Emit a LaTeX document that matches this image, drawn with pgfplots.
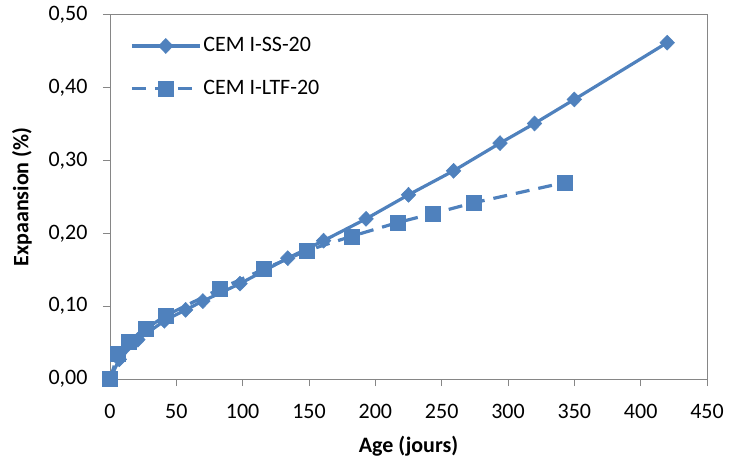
\documentclass[border=0pt]{standalone}
\usepackage{pgfplots}
\pgfplotsset{compat=1.18}
\usepackage{fontspec}
\setmainfont{Carlito}
\definecolor{xlblue}{HTML}{4F81BD}
\definecolor{axgray}{HTML}{868686}
\begin{document}
\fontsize{22bp}{26bp}\selectfont
\begin{tikzpicture}
\useasboundingbox (-110bp,-87bp) rectangle (619bp,379bp);
\begin{axis}[
  at={(0,0)}, anchor=south west,
  scale only axis, width=597bp, height=364bp,
  xmin=0, xmax=450, ymin=0, ymax=0.5,
  xtick={0,50,...,450}, ytick={0,0.1,0.2,0.3,0.4,0.5},
  tick align=outside, xtick pos=bottom, ytick pos=left,
  major tick length=7bp,
  every tick/.style={axgray, line width=1pt},
  axis line style={axgray, line width=1pt},
  tick label style={font=\fontsize{22bp}{26bp}\selectfont, black},
  /pgf/number format/assume math mode=true,
  yticklabel style={/pgf/number format/.cd, fixed, fixed zerofill, precision=2, use comma, /tikz/.cd, xshift=-8bp},
  xticklabel style={/pgf/number format/.cd, fixed, /tikz/.cd, yshift=-11bp},
  scaled y ticks=false,
  xlabel={\bfseries Age (jours)},
  ylabel={\bfseries Expaansion (\%)},
  label style={font=\fontsize{22bp}{26bp}\selectfont\bfseries},
  xlabel style={at={(axis description cs:0.5,0)}, anchor=center, yshift=-67bp},
  ylabel style={at={(axis description cs:0,0.5)}, anchor=center, yshift=88bp},
  legend style={at={(17bp,346bp)}, anchor=north west, draw=none, fill=none,
    font=\fontsize{22bp}{26bp}\selectfont, row sep=21bp,
    /tikz/every even column/.append style={column sep=0pt}},
  legend cell align=left,
  legend image code/.code={%
    \draw[mark repeat=2,mark phase=2,#1] plot coordinates {(0bp,0bp) (34bp,0bp) (68bp,0bp)};},
]
\addplot[color=xlblue, line width=3.2bp, mark=diamond*, mark size=7.5bp,
  mark options={solid, fill=xlblue, draw=xlblue, line width=0.5pt, xscale=1.3}]
coordinates {
(0,0) (7,0.027) (21,0.054) (41,0.080) (57,0.095) (70,0.107) (98,0.131)
(134,0.166) (161,0.190) (193,0.220) (225,0.253) (259,0.286) (294,0.324)
(320,0.351) (350,0.384) (420,0.462)
};
\addlegendentry{CEM I-SS-20}
\addplot[color=xlblue, line width=3.2bp, dash pattern=on 14bp off 9bp, mark=square*, mark size=7.5bp,
  mark options={solid, fill=xlblue, draw=xlblue, line width=0.5pt}]
coordinates {
(0,0) (6,0.034) (14,0.051) (27,0.069) (42,0.087) (83,0.124) (116,0.151)
(148,0.176) (182,0.196) (217,0.215) (243,0.227) (274,0.242) (343,0.270)
};
\addlegendentry{CEM I-LTF-20}
\end{axis}
\end{tikzpicture}
\end{document}
